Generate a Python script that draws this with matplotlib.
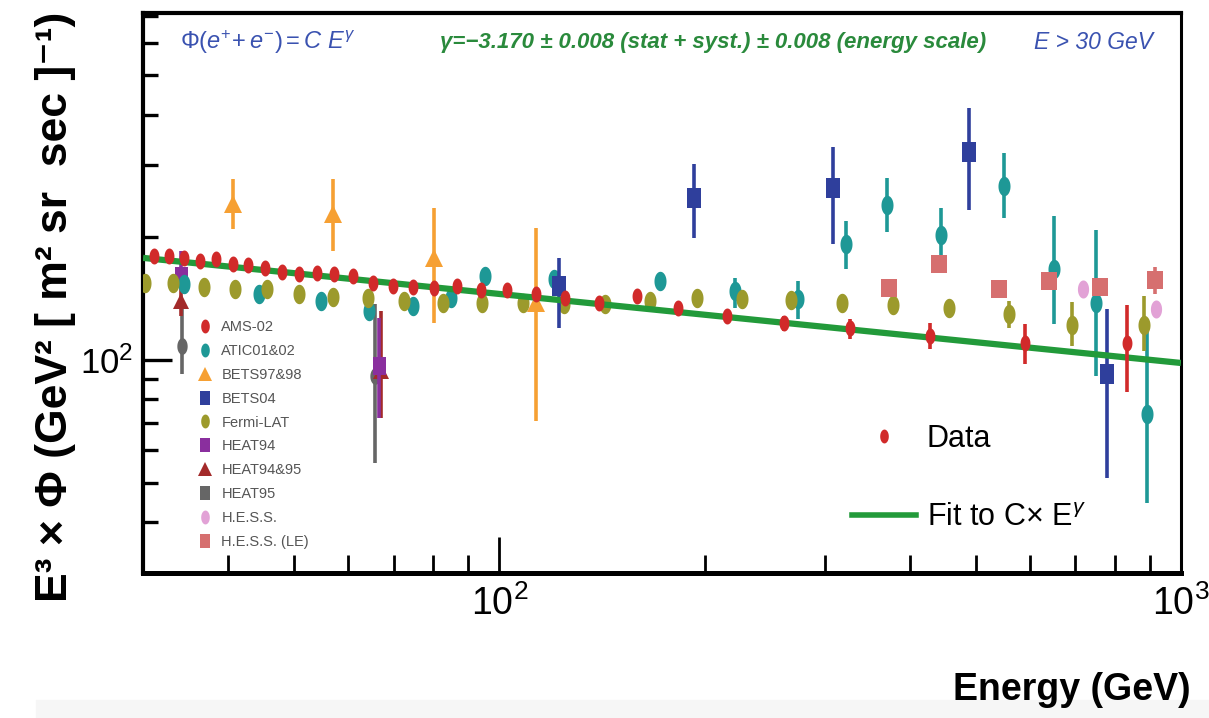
import numpy as np
import matplotlib
matplotlib.use("Agg")
import matplotlib.pyplot as plt
from matplotlib.lines import Line2D
from matplotlib.patches import Rectangle
from matplotlib.ticker import FixedLocator, FixedFormatter, NullFormatter

plt.rcParams['font.family'] = ['Liberation Sans', 'DejaVu Sans']
plt.rcParams['mathtext.fontset'] = 'custom'
plt.rcParams['mathtext.rm'] = 'Liberation Sans'
plt.rcParams['mathtext.it'] = 'Liberation Sans:italic'
plt.rcParams['mathtext.bf'] = 'Liberation Sans:bold'

# ---- data (energy in GeV, E^3 x flux) ----
data_e = [31.1, 32.8, 34.5, 36.4, 38.4, 40.6, 42.8, 45.3, 48.0, 50.8, 54.0, 57.2, 61.0,
          65.3, 69.9, 74.8, 80.3, 86.8, 94.1, 102.7, 113, 125, 140, 159, 183, 216,
          262, 327, 428, 590, 833]
data_v = [180, 180, 178, 175, 177, 172, 171, 168, 164.5, 162.7, 163.6, 162.7, 160.8,
          154.6, 152, 151, 150.3, 152, 148.6, 148.6, 145.3, 142, 138, 143.6, 134.2, 128.3,
          123.3, 119.9, 114.5, 110, 110]
data_err_e = [262, 327, 428, 590, 833]
data_err_lo = [118, 112.5, 106.4, 97.8, 83.5]
data_err_hi = [128, 126, 123.3, 122.6, 136.5]

atic_e = [34.4, 44.4, 54.8, 64.4, 74.8, 85.0, 95.1, 120.4, 171.8, 221.3, 274, 323,
          371, 444, 550, 651, 750, 891]
atic_v = [153.7, 145.3, 139.6, 132, 135.8, 142, 160.8, 158.1, 156.4, 147.7, 141.2, 192.8,
          240.4, 202.8, 267.6, 167.3, 138, 73.7]
atic_err_e = [221.3, 274, 323, 371, 444, 550, 651, 750, 891]
atic_err_lo = [134, 126.1, 167.3, 206.3, 180, 223, 122.6, 91.3, 44.5]
atic_err_hi = [159, 156.4, 219.6, 280, 236.4, 322.7, 225.7, 208.6, 119.9]

bets9798_e = [40.6, 57.0, 80.3, 113]
bets9798_v = [241.7, 228.5, 178, 138]
bets9798_lo = [209.7, 185.3, 123.3, 70.8]
bets9798_hi = [278.4, 278.4, 236.4, 210.9]

bets04_e = [122.5, 192.7, 308.3, 488.3, 778.5]
bets04_v = [152, 250, 264.6, 324.4, 92.4]
bets04_lo = [119.9, 199.4, 192.8, 233.7, 51.3]
bets04_hi = [178, 303, 333.5, 416, 133.5]

fermi_e = [30.2, 33.2, 36.9, 40.9, 45.6, 50.8, 57.0, 64.2, 72.5, 82.7, 94.4, 108.4,
           124.6, 143.1, 166.6, 194.7, 226.7, 267.5, 317.8, 377.7, 456.3, 558.9, 691.8, 882.4]
fermi_v = [154.6, 154.6, 151.1, 149.4, 149.4, 145.3, 142.8, 142, 139.6, 138, 138, 138,
           137.3, 137.3, 139.6, 142, 141.2, 140.4, 138, 136.5, 134.2, 129.7, 121.9, 121.9]
fermi_err_e = [558.9, 691.8, 882.4]
fermi_err_lo = [119.9, 108.2, 105.2]
fermi_err_hi = [139.6, 138.8, 143.6]

heat94_e = [34.1, 66.6]
heat94_v = [160.8, 96.7]
heat94_lo = [150.3, 72]
heat94_hi = [185.3, 126.9]

heat9495_e = [34.1, 67.1]
heat9495_v = [139.6, 94]
heat9495_lo = [128, 72]
heat9495_hi = [150, 132]

heat95_e = [34.2, 65.7]
heat95_v = [108.2, 91.3]
heat95_lo = [92.4, 55.8]
heat95_hi = [134.2, 137.3]

hess_e = [718, 919]
hess_v = [149.4, 133.5]

hessle_e = [372.6, 441.2, 540.4, 640.1, 760.3, 915.9]
hessle_v = [150.3, 172.1, 149.4, 156.4, 151.1, 157.3]
hessle_err_e = [915.9]
hessle_err_lo = [145.3]
hessle_err_hi = [169.2]

fit_e = [30, 1000]
fit_v = [178, 98.3]

# ---- colours ----
c_red = '#d12a2a'
c_teal = '#1e9896'
c_orange = '#f6a033'
c_blue = '#2f3f9c'
c_olive = '#9c9a2c'
c_purple = '#8a2f9e'
c_brown = '#a32a2a'
c_gray = '#666666'
c_pink = '#e2a2d6'
c_salmon = '#d66f6f'
c_green = '#229a3a'

# tall ellipse / rectangle markers (the picture is squeezed sideways)
t = np.linspace(0, 2 * np.pi, 40)
ellipse = np.column_stack([0.62 * np.cos(t), np.sin(t)])
rect = [(-0.36, -0.5), (0.36, -0.5), (0.36, 0.5), (-0.36, 0.5), (-0.36, -0.5)]
sq = [(-0.45, -0.5), (0.45, -0.5), (0.45, 0.5), (-0.45, 0.5), (-0.45, -0.5)]

fig = plt.figure(figsize=(12.09, 7.18), dpi=100)
fig.patches.append(Rectangle((0.03, 0), 0.97, 18 / 718, transform=fig.transFigure,
                             color='#f6f6f6', zorder=0))
ax = fig.add_axes([0.1183, 0.2019, 0.8585, 0.78])
ax.set_xscale('log')
ax.set_yscale('log')
ax.set_xlim(30, 1000)
ax.set_ylim(30, 710)


def series(e, v, color, marker, ms, err_e=None, lo=None, hi=None, z=3):
    if err_e is not None:
        ax.vlines(err_e, lo, hi, colors=color, linewidth=2.6, zorder=z)
    ax.plot(e, v, linestyle='none', marker=marker, ms=ms, color=color,
            mec=color, mew=0, zorder=z)


series(heat95_e, heat95_v, c_gray, ellipse, 12, heat95_e, heat95_lo, heat95_hi)
series(heat9495_e, heat9495_v, c_brown, '^', 11, heat9495_e, heat9495_lo, heat9495_hi)
series(heat94_e, heat94_v, c_purple, rect, 13, heat94_e, heat94_lo, heat94_hi)
series(bets9798_e, bets9798_v, c_orange, '^', 13, bets9798_e, bets9798_lo, bets9798_hi)
series(atic_e, atic_v, c_teal, ellipse, 14, atic_err_e, atic_err_lo, atic_err_hi)
series(fermi_e, fermi_v, c_olive, ellipse, 14, fermi_err_e, fermi_err_lo, fermi_err_hi)
series(bets04_e, bets04_v, c_blue, rect, 14, bets04_e, bets04_lo, bets04_hi)
series(hessle_e, hessle_v, c_salmon, sq, 13, hessle_err_e, hessle_err_lo, hessle_err_hi)
series(hess_e, hess_v, c_pink, ellipse, 13)

ax.plot(fit_e, fit_v, color=c_green, linewidth=4.5, zorder=3.5, solid_capstyle='butt')
series(data_e, data_v, c_red, ellipse, 11.5, data_err_e, data_err_lo, data_err_hi, z=4)

# ---- axes styling ----
ax.spines['left'].set_linewidth(3)
ax.spines['bottom'].set_linewidth(3.6)
ax.spines['top'].set_linewidth(3)
ax.spines['right'].set_linewidth(2.2)

ax.xaxis.set_major_locator(FixedLocator([100, 1000]))
ax.xaxis.set_major_formatter(FixedFormatter(['$10^{2}$', '$10^{3}$']))
ax.xaxis.set_minor_locator(FixedLocator([40, 50, 60, 70, 80, 90, 200, 300, 400, 500,
                                         600, 700, 800, 900]))
ax.xaxis.set_minor_formatter(NullFormatter())
ax.yaxis.set_major_locator(FixedLocator([100]))
ax.yaxis.set_major_formatter(FixedFormatter(['$10^{2}$']))
ax.yaxis.set_minor_locator(FixedLocator([40, 50, 60, 70, 80, 90, 200, 300, 400, 500, 600, 700]))
ax.yaxis.set_minor_formatter(NullFormatter())

ax.tick_params(axis='x', which='major', direction='in', length=26, width=2, pad=9,
               labelsize=27, top=False)
ax.tick_params(axis='x', which='minor', direction='in', length=13, width=2, top=False)
ax.tick_params(axis='y', which='major', direction='in', length=21, width=2.4, pad=7,
               labelsize=25, right=False)
ax.tick_params(axis='y', which='minor', direction='in', length=11, width=2.4, right=False)

# ---- texts ----
ax.text(0.036, 0.948, r'$\Phi(e^{+}\!+e^{-}) = C\ E^{\gamma}$', transform=ax.transAxes,
        color='#3a52b0', fontsize=17, va='center', ha='left')
ax.text(0.286, 0.948, 'γ=−3.170 ± 0.008 (stat + syst.) ± 0.008 (energy scale)',
        transform=ax.transAxes, color='#2a8a3c', fontsize=16, style='italic',
        fontweight='bold', va='center', ha='left')
ax.text(0.858, 0.948, 'E > 30 GeV', transform=ax.transAxes, color='#3a52b0',
        fontsize=16.5, style='italic', va='center', ha='left')

fig.text(0.046, 0.572, 'E³ × Φ (GeV² [ m² sr  sec ]⁻¹)', rotation=90, fontsize=32,
         fontweight='bold', ha='center', va='center')
fig.text(0.985, 1 - 690 / 718, 'Energy (GeV)', fontsize=27, fontweight='bold',
         ha='right', va='center')

# ---- legends ----
leg1_items = [('AMS-02', c_red, ellipse), ('ATIC01&02', c_teal, ellipse),
              ('BETS97&98', c_orange, '^'), ('BETS04', c_blue, rect),
              ('Fermi-LAT', c_olive, ellipse), ('HEAT94', c_purple, rect),
              ('HEAT94&95', c_brown, '^'), ('HEAT95', c_gray, rect),
              ('H.E.S.S.', c_pink, ellipse), ('H.E.S.S. (LE)', c_salmon, rect)]
h1 = [Line2D([], [], linestyle='none', marker=m, ms=10, color=c, mew=0)
      for _, c, m in leg1_items]
leg1 = ax.legend(h1, [n for n, _, _ in leg1_items], loc='upper left',
                 bbox_to_anchor=(0.053, 0.452), frameon=False, fontsize=10.5,
                 labelcolor='#555555', handlelength=1.0, handletextpad=0.6,
                 labelspacing=0.68, borderpad=0, borderaxespad=0)
ax.add_artist(leg1)

h2 = [Line2D([], [], linestyle='none', marker=ellipse, ms=10, color=c_red, mew=0),
      Line2D([], [], color=c_green, linewidth=4)]
ax.legend(h2, ['Data', r'Fit to C$\times$ E$^{\gamma}$'], loc='upper left',
          bbox_to_anchor=(0.683, 0.266), frameon=False, fontsize=22,
          handlelength=2.1, handletextpad=0.35, labelspacing=1.6,
          borderpad=0, borderaxespad=0)

fig.savefig('out.png', dpi=100)
